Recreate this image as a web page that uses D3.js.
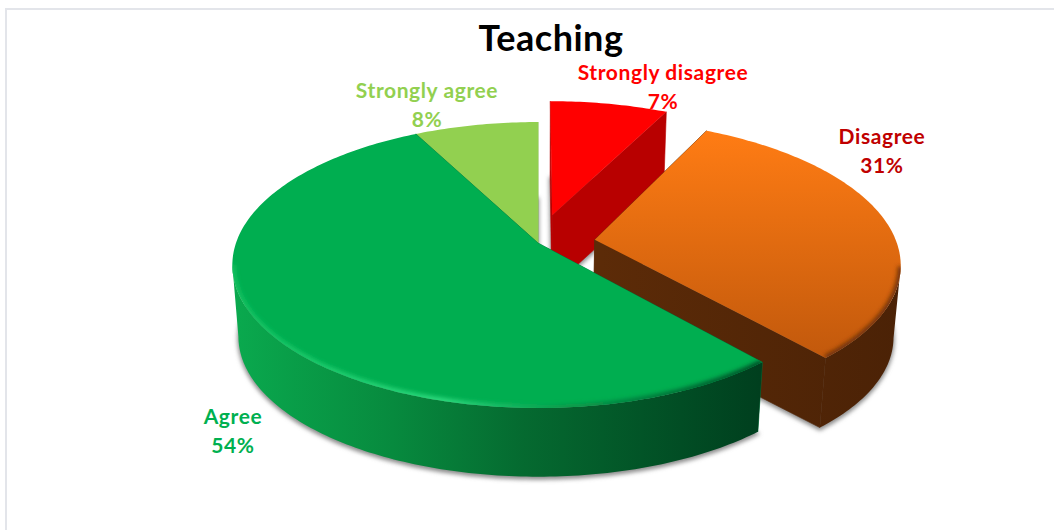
<!DOCTYPE html>
<html lang="en">
<head>
<meta charset="utf-8">
<script src="https://d3js.org/d3.v7.min.js"></script>
<style>
  html, body { margin: 0; padding: 0; background: #fff; }
  svg { display: block; }
  text { font-family: Lato, "Open Sans", sans-serif; font-weight: 700; text-anchor: middle; }
</style>
</head>
<body>
<svg id="chart" width="1054" height="530"></svg>
<script>
const title = "Teaching";
// unrounded shares, the labels round them
const categories = ["Strongly disagree", "Disagree", "Agree", "Strongly agree"];
const shares = [7.4, 31.2, 53.8, 7.6];
const explode = [0.21, 0.19, 0, 0];
const topColors = ["#ff0000", "url(#orangeTop)", "#00ae50", "#92d050"];
const cutColors = ["#b80000", "url(#orangeWall)", "#00733a", "#7fb845"];
const wallColors = ["#b80000", "url(#orangeWall)", "url(#greenWall)", "#7fb845"];
const labelColors = ["#ff0000", "#c00000", "#00b050", "#92d050"];
const labelX = [663, 882, 233, 427];
const labelY = [80, 144, 424, 98];

const svg = d3.select("#chart");

// frame of the picture
svg.append("rect")
  .attr("x", 6).attr("y", 9).attr("width", 1060).attr("height", 540)
  .attr("fill", "#fff").attr("stroke", "#e3e5ea").attr("stroke-width", 2);

// projection of the tilted disc: near points get bigger
const cx = 538, persp = 0.154;
const planes = {
  top: { y0: 243, rx: 302, ry: 139.6 },
  bottom: { y0: 315, rx: 296, ry: 136.8 }
};
function project(u, v, plane) {
  const w = 1 + persp * v;
  return [cx + plane.rx * u / w, plane.y0 - plane.ry * v / w];
}
function rim(angle, e, mid, plane) {
  return project(Math.sin(angle) + e * Math.sin(mid), Math.cos(angle) + e * Math.cos(mid), plane);
}
function apex(e, mid, plane) {
  return project(e * Math.sin(mid), e * Math.cos(mid), plane);
}
function arcAngles(a0, a1) {
  const n = Math.max(2, Math.ceil(Math.abs(a1 - a0) * 60));
  return d3.range(n + 1).map(i => a0 + (a1 - a0) * i / n);
}
function arcPoints(angles, s, plane) {
  return angles.map(a => rim(a, s.e, s.mid, plane));
}
const line = d3.line();
const closed = pts => line(pts) + "Z";

const pie = d3.pie().sort(null).value(d => d);
const slices = pie(shares).map((d, i) => ({
  i,
  a0: d.startAngle,
  a1: d.endAngle,
  mid: (d.startAngle + d.endAngle) / 2,
  e: explode[i]
}));

// gradients and blurs
const defs = svg.append("defs");
function gradient(id, vertical, stops, x1, x2) {
  const g = defs.append("linearGradient").attr("id", id).attr("gradientUnits", "userSpaceOnUse");
  if (vertical) g.attr("x1", 0).attr("x2", 0).attr("y1", x1).attr("y2", x2);
  else g.attr("x1", x1).attr("x2", x2).attr("y1", 0).attr("y2", 0);
  stops.forEach(s => g.append("stop").attr("offset", s[0]).attr("stop-color", s[1]));
}
gradient("orangeTop", true, [[0, "#ff7c14"], [1, "#c2590c"]], 131, 357);
gradient("orangeWall", false, [[0, "#5c2b08"], [1, "#4b2206"]], 600, 900);
gradient("greenWall", false, [[0, "#0aa94e"], [0.3, "#078a3e"], [0.55, "#056a30"], [0.85, "#014d24"], [1, "#003f1e"]], 235, 760);
gradient("greenBevel", false, [[0, "#12c060"], [0.4, "#2fdc80"], [0.62, "#0a9a4c"], [0.85, "#006b34"], [1, "#004a24"]], 232, 762);
defs.append("filter").attr("id", "shadow").attr("x", "-10%").attr("y", "-10%").attr("width", "120%").attr("height", "120%")
  .append("feGaussianBlur").attr("stdDeviation", 2);
defs.append("filter").attr("id", "soft").attr("x", "-10%").attr("y", "-10%").attr("width", "120%").attr("height", "120%")
  .append("feGaussianBlur").attr("stdDeviation", 2);

function topPath(s) {
  return closed([apex(s.e, s.mid, planes.top)].concat(arcPoints(arcAngles(s.a0, s.a1), s, planes.top)));
}

// the part of the rim facing the viewer, from the right extreme to the left one
function frontAngles(s) {
  const angles = arcAngles(s.a0, s.a1);
  const xs = arcPoints(angles, s, planes.top).map(p => p[0]);
  const iMax = d3.maxIndex(xs), iMin = d3.minIndex(xs);
  const end = iMin > iMax ? iMin : angles.length - 1;
  return angles.slice(iMax, end + 1);
}

function drawSlice(s) {
  const g = svg.append("g");
  const i = s.i;
  const angles = arcAngles(s.a0, s.a1);

  // soft shadow of the foot of the slice
  const foot = [apex(s.e, s.mid, planes.bottom)].concat(arcPoints(angles, s, planes.bottom));
  g.append("path").attr("d", closed(foot))
    .attr("transform", "translate(0,2)")
    .attr("fill", "#8c8c8c").attr("stroke", "#8c8c8c").attr("stroke-width", 2)
    .attr("filter", "url(#shadow)");

  // the two cut faces
  [s.a0, s.a1].forEach(a => {
    g.append("path")
      .attr("d", closed([
        apex(s.e, s.mid, planes.top),
        rim(a, s.e, s.mid, planes.top),
        rim(a, s.e, s.mid, planes.bottom),
        apex(s.e, s.mid, planes.bottom)
      ]))
      .attr("fill", cutColors[i])
      .attr("stroke", cutColors[i]).attr("stroke-width", 0.6);
  });

  // outer wall, only where it faces the viewer
  const front = frontAngles(s);
  if (front.length > 1) {
    const upper = arcPoints(front, s, planes.top);
    const lower = arcPoints(front, s, planes.bottom).reverse();
    g.append("path").attr("d", closed(upper.concat(lower))).attr("fill", wallColors[i]);
  }

  // top face, bevel kept inside it
  g.append("path").attr("d", topPath(s)).attr("fill", topColors[i]);
  if (front.length > 1) {
    const clipId = "clip" + i;
    defs.append("clipPath").attr("id", clipId).append("path").attr("d", topPath(s));
    g.append("g").attr("clip-path", `url(#${clipId})`)
      .append("path")
      .attr("d", line(arcPoints(front, s, planes.top)))
      .attr("fill", "none")
      .attr("stroke", i === 1 ? "#6e3208" : "url(#greenBevel)")
      .attr("stroke-width", 6)
      .attr("filter", "url(#soft)");
  }
}

// back slices first, the big green one lies over everything
[0, 3, 1, 2].forEach(i => drawSlice(slices[i]));

// labels
svg.append("text")
  .attr("x", 551).attr("y", 51)
  .attr("font-size", 36).attr("letter-spacing", 0.5).attr("fill", "#000")
  .text(title);

const percent = d3.format(".0f");
categories.forEach((c, i) => {
  const t = svg.append("text")
    .attr("font-size", 21)
    .attr("letter-spacing", 0.6)
    .attr("fill", labelColors[i]);
  t.append("tspan").attr("x", labelX[i]).attr("y", labelY[i]).text(c);
  t.append("tspan").attr("x", labelX[i]).attr("y", labelY[i] + 29).text(percent(shares[i]) + "%");
});
</script>
</body>
</html>
